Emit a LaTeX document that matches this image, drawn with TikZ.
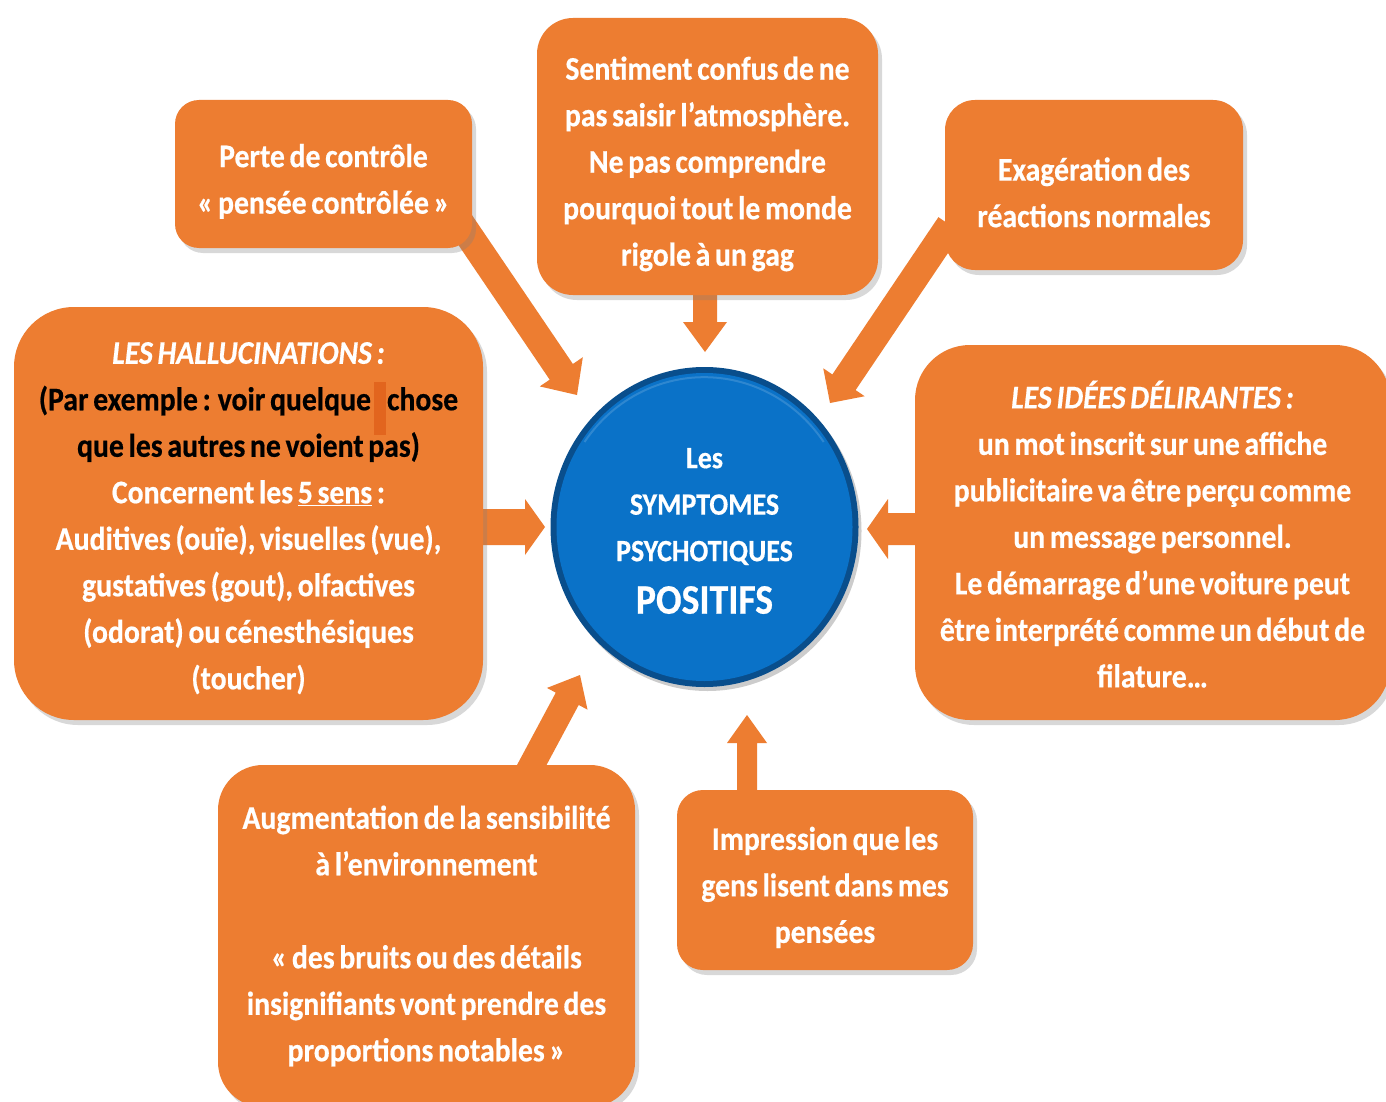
\documentclass[tikz,border=0pt]{standalone}
\usepackage{fontspec}
\setmainfont{Carlito}[FakeStretch=0.9,WordSpace=0.7,
  BoldFeatures={FakeBold=0.5},BoldItalicFeatures={FakeBold=0.5}]
\usetikzlibrary{calc,shadows,shapes.geometric}
\definecolor{orng}{RGB}{237,125,49}
\definecolor{darko}{RGB}{226,101,30}
\definecolor{bluec}{RGB}{10,114,200}
\definecolor{bluer}{RGB}{9,78,140}
\pgfdeclarelayer{bg}
\pgfsetlayers{bg,main}
\newcommand\mainfnt{\fontsize{33}{46.5}\selectfont\bfseries}
\newcommand\firstl{\rule{0pt}{38pt}}
\newcommand\firsts{\rule{0pt}{31pt}}
% #1 start, #2 tip, #3 half shaft, #4 half head, #5 head length
\newcommand\blockarrow[5]{%
  \coordinate (#1h) at ($(#2)!#5!(#1)$);
  \fill[orng] ($(#1)!#3!90:(#2)$) -- ($(#1h)!#3!90:(#2)$) -- ($(#1h)!#4!90:(#2)$)
    -- (#2) -- ($(#1h)!#4!-90:(#2)$) -- ($(#1h)!#3!-90:(#2)$) -- ($(#1)!#3!-90:(#2)$) -- cycle;}
\begin{document}
\begin{tikzpicture}[x=1pt,y=-1pt,
  box/.style={fill=orng, rounded corners=#1,
    drop shadow={opacity=0.3, shadow xshift=4pt, shadow yshift=-5pt},
    text=white, align=center, inner sep=0pt, font=\mainfnt}]
\useasboundingbox (0,0) rectangle (1386,1102);
\clip (0,0) rectangle (1386,1102);

% boxes
\node[box=24, minimum width=297pt, minimum height=148pt] (perte) at (323.5,174)
  {\firstl Perte de contrôle\\« pensée contrôlée »};
\node[box=36, minimum width=341pt, minimum height=277pt] (sent) at (707.5,156.5)
  {\firstl Sentiment confus de ne\\pas saisir l’atmosphère.\\Ne pas comprendre\\pourquoi tout le monde\\rigole à un gag};
\node[box=30, minimum width=298pt, minimum height=170pt] (exag) at (1094,185)
  {\firstl Exagération des\\réactions normales};
\node[box=60, minimum width=469pt, minimum height=413pt] (hall) at (248.5,513.5)
  {\firsts{\itshape LES HALLUCINATIONS :}\\
   \textcolor{black}{(Par exemple : voir quelque\hspace{3pt}\smash{\textcolor{darko}{\rule[-25pt]{12pt}{53pt}}}\hspace{1pt}chose}\\
   \textcolor{black}{que les autres ne voient pas)}\\
   Concernent les \underline{5 sens} :\\
   Auditives (ouïe), visuelles (vue),\\
   gustatives (gout), olfactives\\
   (odorat) ou cénesthésiques\\
   (toucher)};
\node[box=55, minimum width=475pt, minimum height=375pt] (delir) at (1152.5,532.5)
  {\firsts{\itshape LES IDÉES DÉLIRANTES :}\\
   un mot inscrit sur une affiche\\
   publicitaire va être perçu comme\\
   un message personnel.\\
   Le démarrage d’une voiture peut\\
   être interprété comme un début de\\
   filature…};
\node[box=45, minimum width=417pt, minimum height=342pt] (augm) at (426.5,936)
  {Augmentation de la sensibilité\\à l’environnement\\[46.5pt]
   « des bruits ou des détails\\insignifiants vont prendre des\\proportions notables »};
\node[box=26, minimum width=296pt, minimum height=180pt] (impr) at (825,880)
  {\firstl Impression que les\\gens lisent dans mes\\pensées};

% centre
\node[ellipse, minimum width=308pt, minimum height=320pt, inner sep=0pt, fill=bluer,
  drop shadow={opacity=0.4, shadow xshift=3pt, shadow yshift=-4pt}] (ctr) at (704.5,527) {};
\node[ellipse, minimum width=296pt, minimum height=308pt, inner sep=0pt, fill=bluec] (ctrin) at (ctr.center) {};
\draw[white, opacity=0.15, line width=2pt] ($(ctr.center)+(-120,-85)$) arc[start angle=215, end angle=325, x radius=146pt, y radius=-152pt];
\node[text=white, align=center, font=\fontsize{31}{46.5}\selectfont\bfseries, inner sep=0pt] (ctrtxt) at (704.5,531)
  {Les\\SYMPTOMES\\PSYCHOTIQUES\\[6pt]{\fontsize{42}{50}\selectfont POSITIFS}};

% connectors
\coordinate (s1) at (455,215);  \coordinate (t1) at (577,395);
\coordinate (s2) at (705,290);  \coordinate (t2) at (705,352);
\coordinate (s3) at (950,225);  \coordinate (t3) at (830,403);
\coordinate (s4) at (478,527);  \coordinate (t4) at (545,527);
\coordinate (s5) at (920,529);  \coordinate (t5) at (867,529);
\coordinate (s6) at (528,772);  \coordinate (t6) at (580,675);
\coordinate (s7) at (747,795);  \coordinate (t7) at (747,715);
\begin{pgfonlayer}{bg}
  \fill[white] (0,0) rectangle (1386,1102);
  \blockarrow{s1}{t1}{14pt}{26pt}{28pt}
  \blockarrow{s2}{t2}{12pt}{22pt}{30pt}
  \blockarrow{s3}{t3}{14pt}{25pt}{25pt}
  \blockarrow{s4}{t4}{18pt}{28pt}{20pt}
  \blockarrow{s5}{t5}{16pt}{30pt}{21pt}
  \blockarrow{s6}{t6}{13pt}{23pt}{27pt}
  \blockarrow{s7}{t7}{10pt}{20pt}{28pt}
\end{pgfonlayer}
\end{tikzpicture}
\end{document}
